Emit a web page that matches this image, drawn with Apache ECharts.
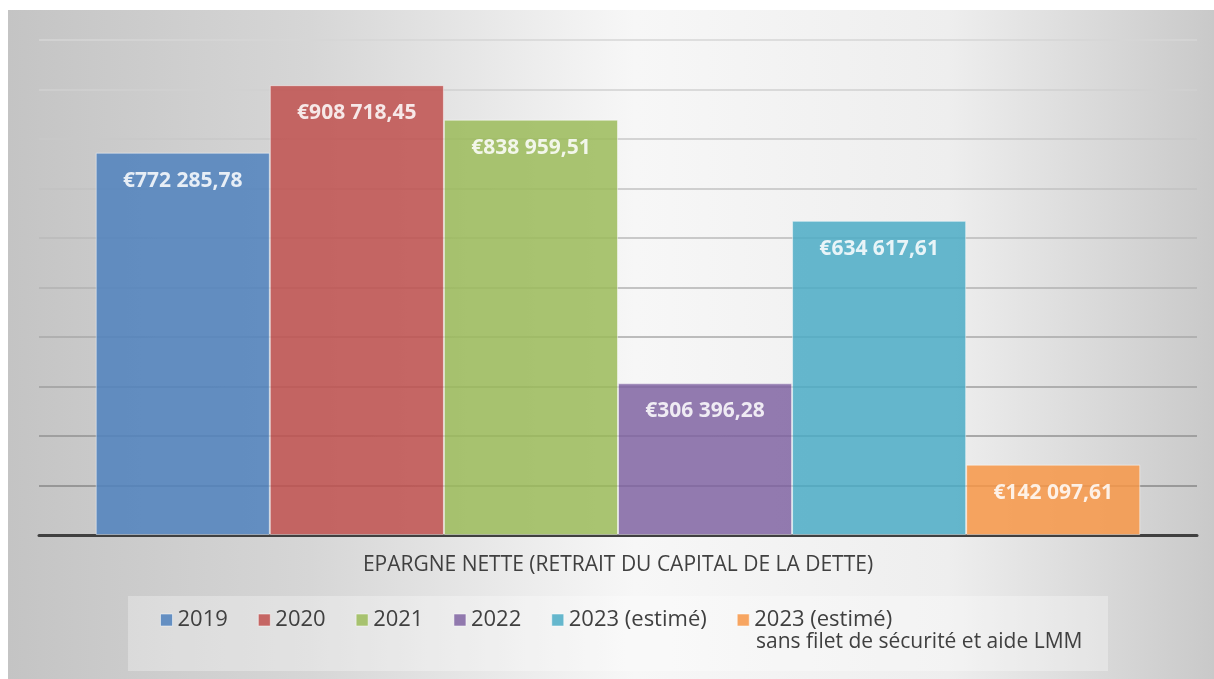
<!DOCTYPE html>
<html>
<head>
<meta charset="utf-8">
<script src="https://cdn.jsdelivr.net/npm/echarts@6/dist/echarts.min.js"></script>
<style>
  html, body { margin: 0; padding: 0; background: #fff; }
  #chart { position: absolute; left: 8px; top: 10px; width: 1206px; height: 669px; }
</style>
</head>
<body>
<div id="chart"></div>
<script>
const categories = ['EPARGNE NETTE (RETRAIT DU CAPITAL DE LA DETTE)'];
const seriesNames = ['2019', '2020', '2021', '2022', '2023 (estimé)', '2023 (estimé)\nsans filet de sécurité et aide LMM'];
const values = [772285.78, 908718.45, 838959.51, 306396.28, 634617.61, 142097.61];
const colors = ['#4F81BD', '#C0504D', '#9BBB59', '#8064A2', '#4BACC6', '#F79646'];
// split lines get darker towards the bottom
const gridColors = ['#404040', '#878787', '#929292', '#9e9e9e', '#a8a8a8', '#b2b2b2', '#bababa', '#c2c2c2', '#c8c8c8', '#d0d0d0', '#d6d6d6'];

const font = '"Open Sans", "Liberation Sans", sans-serif';

function euro(v) {
  const parts = v.toFixed(2).split('.');
  const int = parts[0].replace(/\B(?=(\d{3})+(?!\d))/g, ' ');
  return '€' + int + ',' + parts[1];
}

const lastName = seriesNames[seriesNames.length - 1];

const myChart = echarts.init(document.getElementById('chart'));

const option = {
  animation: false,
  color: colors,
  backgroundColor: {
    type: 'linear', x: 0, y: 0, x2: 1, y2: 0,
    colorStops: [
      { offset: 0, color: '#c4c4c4' },
      { offset: 0.25, color: '#d6d6d6' },
      { offset: 0.52, color: '#f7f7f7' },
      { offset: 0.78, color: '#eeeeee' },
      { offset: 1, color: '#c9c9c9' }
    ]
  },
  textStyle: { fontFamily: font },
  graphic: [{
    type: 'rect', left: 120, top: 586, z: -1,
    shape: { width: 980, height: 75 },
    style: { fill: 'rgba(255,255,255,0.3)' }
  }, {
    // second line of the last legend entry
    type: 'text', left: 748, top: 622,
    style: { text: lastName.split('\n')[1], font: '21px ' + font, fill: '#404040' }
  }],
  grid: { left: 31, right: 17, top: 30, bottom: 144 },
  legend: {
    left: 147, top: 593,
    itemWidth: 12, itemHeight: 12, itemGap: 30,
    icon: 'rect',
    itemStyle: { opacity: 0.85, borderColor: 'rgba(255,255,255,0.6)', borderWidth: 1 },
    textStyle: { fontFamily: font, fontSize: 22, color: '#404040', lineHeight: 24 },
    formatter: name => name.split('\n')[0],
    data: seriesNames
  },
  xAxis: {
    type: 'category',
    data: categories,
    axisTick: { show: false },
    axisLine: { lineStyle: { color: '#404040', width: 3 } },
    axisLabel: { margin: 20, fontSize: 21, color: '#404040', fontFamily: font }
  },
  yAxis: {
    type: 'value',
    min: 0, max: 1000000, interval: 100000,
    axisLabel: { show: false },
    axisLine: { show: false },
    axisTick: { show: false },
    splitLine: { lineStyle: { color: gridColors, width: 1.5 } }
  },
  series: seriesNames.map((name, i) => ({
    type: 'bar',
    name: name,
    data: [values[i]],
    barGap: '0%',
    barCategoryGap: '9.8%',
    itemStyle: { opacity: 0.85, borderColor: 'rgba(255,255,255,0.55)', borderWidth: 1 },
    label: {
      show: true,
      position: 'insideTop',
      distance: 16,
      formatter: p => euro(p.value),
      color: '#fff',
      fontFamily: font,
      fontWeight: 'bold',
      fontSize: 21,
      lineHeight: 24
    }
  }))
};

myChart.setOption(option);
</script>
</body>
</html>
